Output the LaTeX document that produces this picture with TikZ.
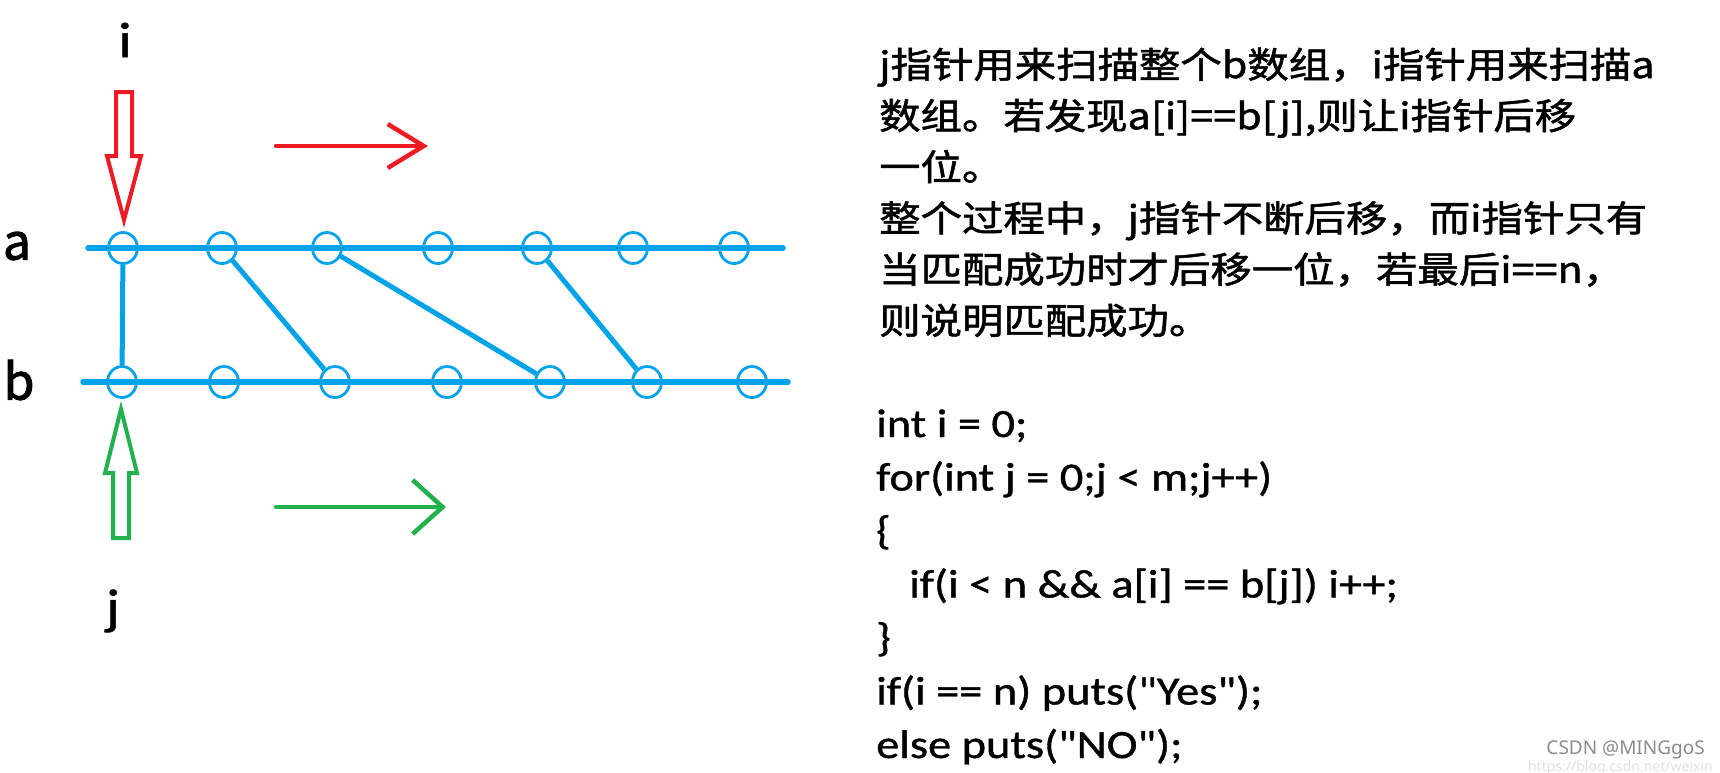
\documentclass[tikz,border=0pt]{standalone}
\usepackage{fontspec}
\usetikzlibrary{shapes.geometric,arrows.meta}
\newfontfamily\cjk[FakeStretch=1.15,FakeBold=1.5]{Noto Sans CJK SC}
\newfontfamily\cjklab[FakeBold=2]{Noto Sans CJK SC}
\newfontfamily\codefont[FakeStretch=1.16,FakeBold=1]{Carlito}
\newfontfamily\markfont{Noto Sans}
\definecolor{paintblue}{RGB}{0,162,232}
\definecolor{paintred}{RGB}{237,28,36}
\definecolor{paintgreen}{RGB}{34,177,76}
\begin{document}
\begin{tikzpicture}[x=1pt,y=-1pt,
  ring/.style={ellipse,draw=paintblue,line width=2.8pt,minimum width=29pt,minimum height=31pt,inner sep=0pt},
  rail/.style={paintblue,line width=5.5pt,line cap=round},
  link/.style={paintblue,line width=5pt},
  hollow/.style={line width=4pt,line join=miter},
  ptr/.style={line width=4.5pt,line cap=round},
  lab/.style={inner sep=0pt,font=\cjklab\fontsize{50}{50}\selectfont},
  idx/.style={inner sep=0pt,font=\codefont\fontsize{50}{50}\selectfont},
  note/.style={anchor=base west,inner sep=0pt,font=\cjk\fontsize{36}{51}\selectfont},
  code/.style={anchor=base west,inner sep=0pt,font=\codefont\fontsize{40}{53}\selectfont}]
  \path[use as bounding box,fill=white] (0,0) rectangle (1720,772);
  % the two arrays
  \coordinate (aL) at (88,248);
  \coordinate (aR) at (783,248);
  \coordinate (bL) at (83,382);
  \coordinate (bR) at (788,382);
  \draw[rail] (aL) -- (aR);
  \draw[rail] (bL) -- (bR);
  \foreach \x [count=\i] in {123,222,327,438,537,633,734}
    \node[ring] (a\i) at (\x,248) {};
  \foreach \x [count=\i] in {122,224,335,447,550,647,752}
    \node[ring] (b\i) at (\x,382) {};
  \foreach \s/\t in {1/1,2/3,3/5,5/6}
    \draw[link] (a\s) -- (b\t);
  \node[lab] (la) at (17,246) {a};
  \node[lab] (lb) at (19,380) {b};
  % pointers i and j
  \node[idx] (li) at (125,40) {i};
  \node[idx] (lj) at (113,611) {j};
  \draw[hollow,paintred] (116,92) -- (132,92) -- (132,156) -- (141,156) -- (124,220)
    -- (107,156) -- (116,156) -- cycle;
  \draw[hollow,paintgreen] (113,538) -- (129,538) -- (129,473) -- (137,473) -- (121,409)
    -- (105,473) -- (113,473) -- cycle;
  \coordinate (rs) at (276,146);
  \coordinate (re) at (428,146);
  \coordinate (gs) at (276,507);
  \coordinate (ge) at (446,507);
  \draw[ptr,paintred,-{Straight Barb[length=36pt,width=44pt]}] (rs) -- (re);
  \draw[ptr,paintgreen,-{Straight Barb[length=30pt,width=54pt]}] (gs) -- (ge);
  % explanation
  \foreach \txt [count=\k] in {{j指针用来扫描整个b数组，i指针用来扫描a},{数组。若发现a[i]==b[j],则让i指针后移},{一位。},{整个过程中，j指针不断后移，而i指针只有},{当匹配成功时才后移一位，若最后i==n，},{则说明匹配成功。}} {
    \pgfmathsetmacro{\y}{78+51.2*(\k-1)}
    \node[note] (t\k) at (879,\y) {\txt};
  }
  % code
  \foreach \x/\txt [count=\k] in {876/{int i = 0;},876/{for(int j = 0;j < m;j++)},876/{\{},909/{if(i < n \&\& a[i] == b[j]) i++;},876/{\}},876/{if(i == n) puts("Yes");},876/{else puts("NO");}} {
    \pgfmathsetmacro{\y}{437+53.5*(\k-1)}
    \node[code] (c\k) at (\x,\y) {\txt};
  }
  \node[anchor=base east,inner sep=0pt,text=black!45,font=\markfont\fontsize{19}{19}\selectfont] (mark) at (1705,754) {CSDN @MINGgoS};
  \node[anchor=base east,inner sep=0pt,text=black!12,font=\markfont\fontsize{14}{14}\selectfont] (url) at (1713,771) {https://blog.csdn.net/weixin};
\end{tikzpicture}
\end{document}
